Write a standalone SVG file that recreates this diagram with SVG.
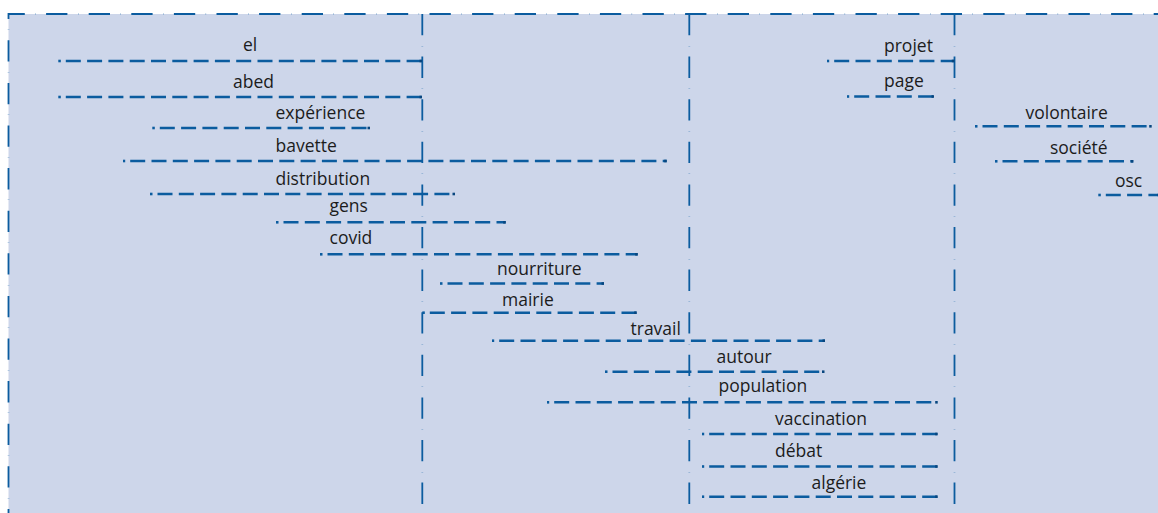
<svg xmlns="http://www.w3.org/2000/svg" width="1158" height="513" viewBox="0 0 1158 513">
<style>
.bg{fill:#cdd6ea;stroke:none}
.frame{fill:none;stroke:#0b5c9f;stroke-width:1.8;stroke-dasharray:21.3 10.6 0.25 10.45}
.v{fill:none;stroke:#0b5c9f;stroke-width:1.8;stroke-dasharray:21.3 10.6 0.25 10.45}
.h{fill:none;stroke:#0b5c9f;stroke-width:2.6;stroke-dasharray:15 6.3;marker-start:url(#dot);marker-end:url(#endsq)}
text{font-family:"Open Sans","Noto Sans","Liberation Sans",sans-serif;font-size:17.5px;fill:#1c1c1c}
</style>
<defs>
<marker id="dot" markerUnits="userSpaceOnUse" markerWidth="12" markerHeight="6" viewBox="0 0 12 6" refX="7.5" refY="3" orient="0">
<rect x="0" y="1.7" width="2.5" height="2.6" fill="#0b5c9f"/>
</marker>
<marker id="endsq" markerUnits="userSpaceOnUse" markerWidth="6" markerHeight="6" viewBox="0 0 6 6" refX="3" refY="3" orient="0">
<rect x="0.5" y="1.7" width="2.5" height="2.6" fill="#08467f"/>
</marker>
</defs>
<rect class="bg" x="8.5" y="14" width="1149.5" height="499"/>
<g id="grid">
<path class="frame" d="M8.5,513 V14 H1158" stroke-dashoffset="17.2"/>
<path class="v" d="M422.3,14 V513"/>
<path class="v" d="M689.3,14 V513"/>
<path class="v" d="M954.5,14 V513"/>
</g>
<g id="connectors">
<path class="h" d="M65.8,61 H422"/>
<path class="h" d="M65.8,97 H422"/>
<path class="h" d="M159.8,128 H370"/>
<path class="h" d="M130.2,161 H666.7"/>
<path class="h" d="M157.5,194 H455"/>
<path class="h" d="M283.5,222.3 H505.7"/>
<path class="h" d="M327.5,254.3 H637.7"/>
<path class="h" d="M447.5,283.5 H604"/>
<path class="h" d="M429.8,312.7 H636.7"/>
<path class="h" d="M499.2,340.7 H825"/>
<path class="h" d="M612.5,371.7 H824.5"/>
<path class="h" d="M554.2,402.3 H937.7"/>
<path class="h" d="M709.2,434 H937.7"/>
<path class="h" d="M709.2,466.5 H937.7"/>
<path class="h" d="M709.2,496.7 H937.7"/>
<path class="h" d="M834.2,61 H954.3"/>
<path class="h" d="M854.2,96.5 H934"/>
<path class="h" d="M982.5,126.3 H1151.7"/>
<path class="h" d="M1002.5,161.3 H1133.3"/>
<path class="h" d="M1105.8,195 H1160"/>
</g>
<g id="n-el"><text x="243" y="51">el</text></g>
<g id="n-abed"><text x="233" y="87.5">abed</text></g>
<g id="n-experience"><text x="275.5" y="119">expérience</text></g>
<g id="n-bavette"><text x="275.5" y="151.8">bavette</text></g>
<g id="n-distribution"><text x="275.5" y="185">distribution</text></g>
<g id="n-gens"><text x="329.5" y="212">gens</text></g>
<g id="n-covid"><text x="329.5" y="243.5">covid</text></g>
<g id="n-nourriture"><text x="497" y="274.5">nourriture</text></g>
<g id="n-mairie"><text x="502" y="305.8">mairie</text></g>
<g id="n-travail"><text x="630.5" y="334.5">travail</text></g>
<g id="n-autour"><text x="716.5" y="362.5">autour</text></g>
<g id="n-population"><text x="718.5" y="392">population</text></g>
<g id="n-vaccination"><text x="775" y="425">vaccination</text></g>
<g id="n-debat"><text x="775" y="456.8">débat</text></g>
<g id="n-algerie"><text x="811.5" y="488.5">algérie</text></g>
<g id="n-projet"><text x="884" y="51.8">projet</text></g>
<g id="n-page"><text x="884" y="86.8">page</text></g>
<g id="n-volontaire"><text x="1025.5" y="118.5">volontaire</text></g>
<g id="n-societe"><text x="1050" y="154">société</text></g>
<g id="n-osc"><text x="1115" y="186.8">osc</text></g>
</svg>
